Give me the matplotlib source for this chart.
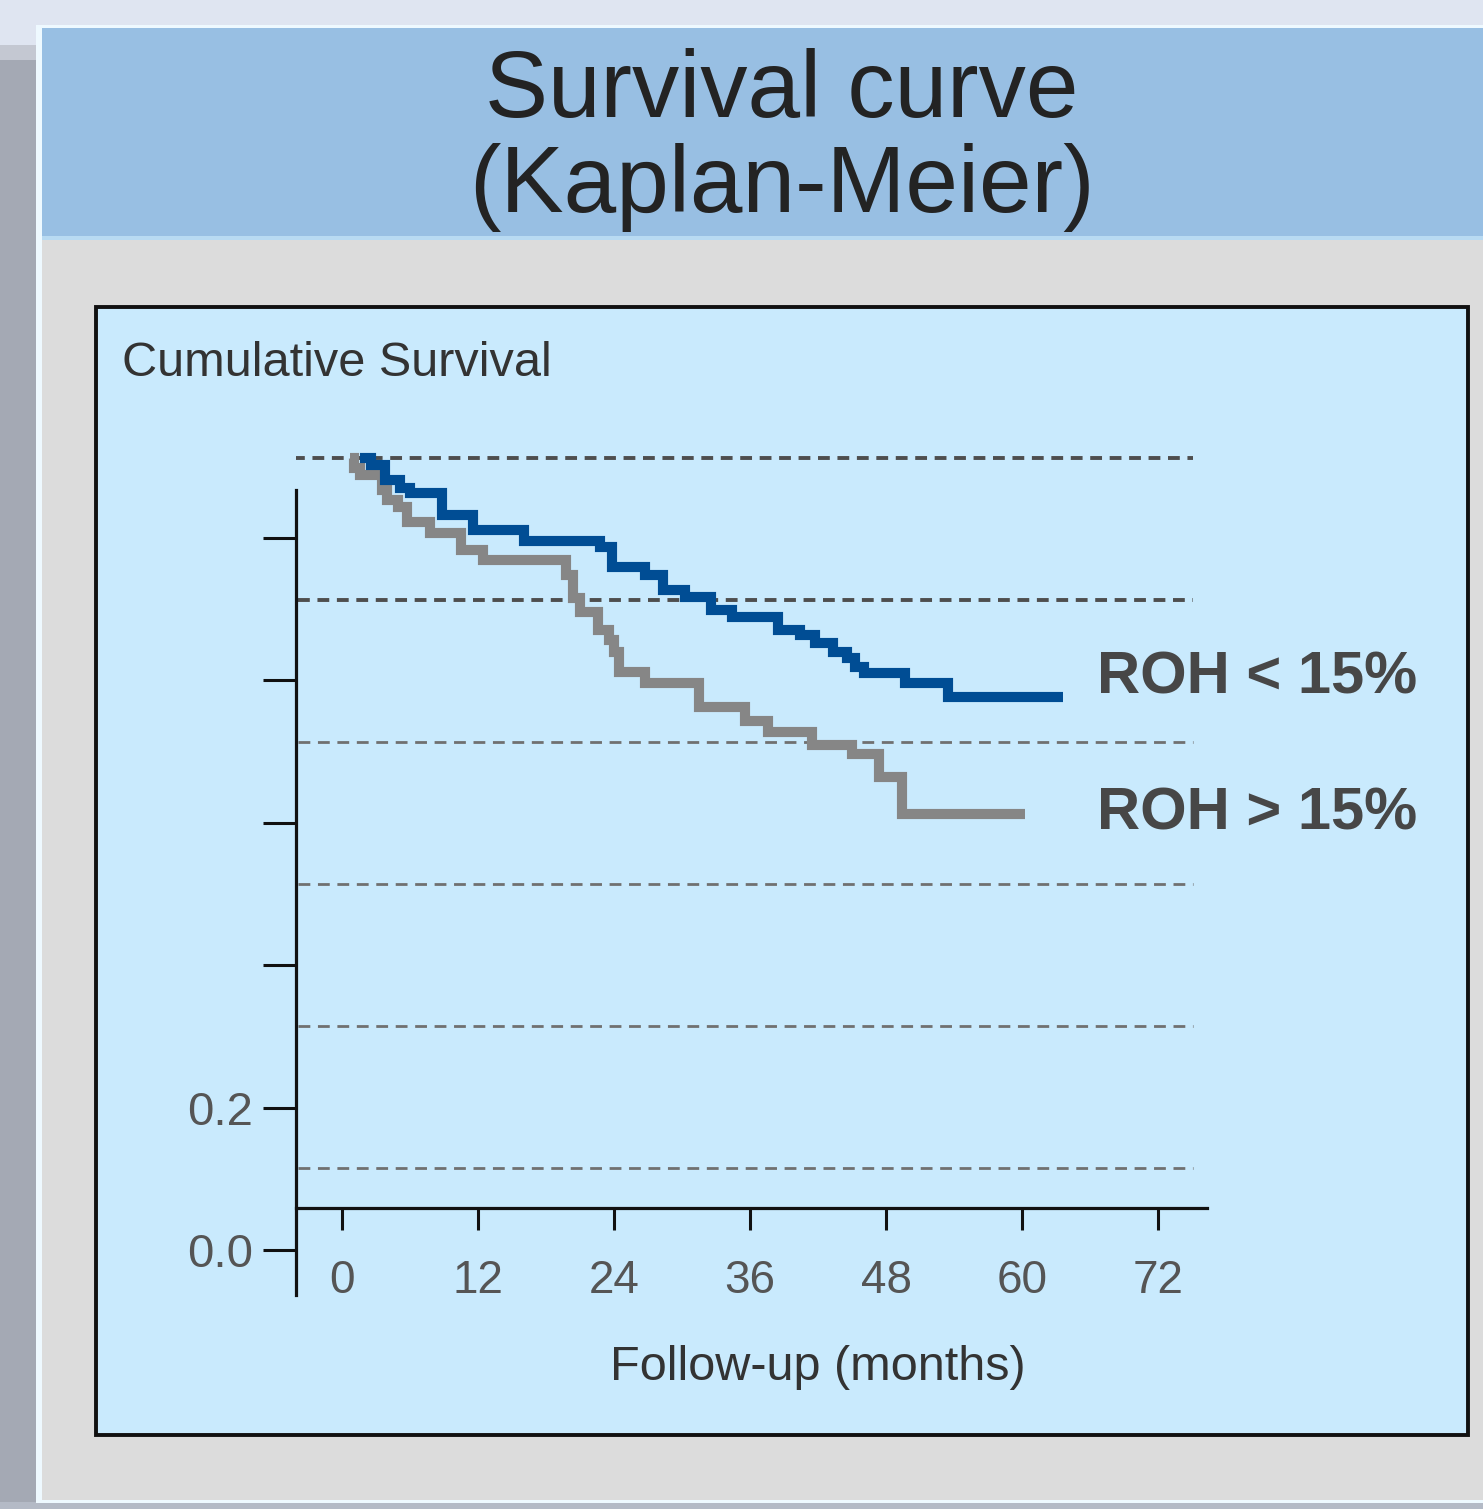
import matplotlib
matplotlib.use("Agg")
import matplotlib.pyplot as plt
from matplotlib.patches import Rectangle

plt.rcParams['font.family'] = ['Liberation Sans', 'DejaVu Sans']
plt.rcParams['lines.scale_dashes'] = False

# ---------------- data ----------------
# Kaplan-Meier step curves: time (months) at which each level starts, survival level
low_roh_times = [1.6, 2.6, 3.8, 5.1, 6.0, 8.8, 11.6, 16.1, 22.8, 23.8, 26.7, 28.3, 30.3,
                 32.6, 34.4, 38.5, 40.4, 41.7, 43.3, 44.6, 45.3, 46.1, 49.7, 53.5, 63.6]
low_roh_surv = [1.000, 0.990, 0.969, 0.958, 0.951, 0.920, 0.899, 0.883, 0.875, 0.846, 0.835,
                0.814, 0.804, 0.786, 0.776, 0.758, 0.751, 0.739, 0.727, 0.718, 0.706, 0.697,
                0.683, 0.663, 0.663]

high_roh_times = [0.7, 1.1, 1.6, 3.5, 4.0, 4.9, 5.7, 7.8, 10.5, 12.4, 19.8, 20.4, 21.0, 22.6,
                  23.6, 24.0, 24.4, 26.7, 31.5, 35.6, 37.6, 41.5, 45.0, 47.4, 49.4, 60.3]
high_roh_surv = [1.000, 0.986, 0.976, 0.955, 0.941, 0.931, 0.910, 0.894, 0.870, 0.856, 0.835,
                 0.803, 0.783, 0.758, 0.744, 0.727, 0.699, 0.683, 0.649, 0.630, 0.614, 0.596,
                 0.583, 0.551, 0.499, 0.499]

series_labels = ["ROH < 15%", "ROH > 15%"]
grid_levels = [1.0, 0.8, 0.6, 0.4, 0.2, 0.0]
x_ticks = [0, 12, 24, 36, 48, 60, 72]
y_ticks = [0.0, 0.2, 0.4, 0.6, 0.8, 1.0]
y_tick_labels = ["0.0", "0.2", "", "", "", ""]

title_lines = ["Survival curve", "(Kaplan-Meier)"]
y_title = "Cumulative Survival"
x_title = "Follow-up (months)"

# ---------------- figure ----------------
W, H = 1483, 1509
fig = plt.figure(figsize=(W / 100, H / 100), dpi=100)
fig.patch.set_facecolor('#dfe5f1')


def rect(x0, y0, x1, y1, **kw):
    fig.patches.append(Rectangle((x0 / W, 1 - y1 / H), (x1 - x0) / W, (y1 - y0) / H,
                                 transform=fig.transFigure, figure=fig, zorder=-10, **kw))


def axes_px(l, t, r, b):
    return fig.add_axes([l / W, 1 - b / H, (r - l) / W, (b - t) / H])


# shadow at left and bottom
rect(0, 60, 36, H, facecolor='#a4a9b4', edgecolor='none')
rect(0, 45, 36, 60, facecolor='#c4c8d2', edgecolor='none')
rect(0, 1502, W, H, facecolor='#b4bac6', edgecolor='none')
# panel
rect(36, 25, W, 1503, facecolor='#eef9ff', edgecolor='none')
rect(42, 28, W, 1500, facecolor='#dcdcdc', edgecolor='none')
rect(42, 28, W, 238, facecolor='#98bfe3', edgecolor='none')
rect(42, 236, W, 240, facecolor='#b8daf2', edgecolor='none')
# inner plot box
rect(96, 307, 1468, 1435, facecolor='#c9eafd', edgecolor='#111111', linewidth=2.8)

# title
fig.text(782 / W, 1 - 92 / H, title_lines[0], ha='center', va='center',
         fontsize=68, color='#232323')
fig.text(782 / W, 1 - 187 / H, title_lines[1], ha='center', va='center',
         fontsize=68, color='#232323')

fig.text(122 / W, 1 - 364 / H, y_title, ha='left', va='center', fontsize=35, color='#333333')

# ---------------- main axes (curves, grid, x axis) ----------------
px_per_month = 816 / 72.0
px_per_unit = 710.0
x0_px, s1_px = 342, 458
ax = axes_px(296, 440, 1207, 1208)
ax.set_xlim((296 - x0_px) / px_per_month, (1207 - x0_px) / px_per_month)
ax.set_ylim(1 - (1208 - s1_px) / px_per_unit, 1 + (s1_px - 440) / px_per_unit)
ax.patch.set_alpha(0)
for sp in ['left', 'right', 'top']:
    ax.spines[sp].set_visible(False)
ax.spines['bottom'].set_linewidth(2.3)
ax.spines['bottom'].set_color('#111111')

gx0 = (298 - x0_px) / px_per_month
gx1 = (1193 - x0_px) / px_per_month
for i, g in enumerate(grid_levels):
    dark = i < 2
    start = (293 - x0_px) / px_per_month if i == 0 else gx0
    ax.hlines(g, start, gx1, colors='#4e4e4e' if dark else '#707070',
              linewidth=2.8 if dark else 2.0, linestyles=[(0, (8.5, 5.5))], zorder=1)

ax.step(high_roh_times, high_roh_surv, where='post', color='#868686', linewidth=7.3,
        solid_capstyle='butt', solid_joinstyle='miter', zorder=3)
ax.step(low_roh_times, low_roh_surv, where='post', color='#004d94', linewidth=7.3,
        solid_capstyle='butt', solid_joinstyle='miter', zorder=4)

lx = (1097 - x0_px) / px_per_month
ax.text(lx, low_roh_surv[-1] + 0.027, series_labels[0], fontsize=43, fontweight='bold',
        color='#474747', va='center', ha='left', clip_on=False)
ax.text(lx, high_roh_surv[-1] - 0.001, series_labels[1], fontsize=43, fontweight='bold',
        color='#474747', va='center', ha='left', clip_on=False)

ax.set_yticks([])
ax.set_xticks(x_ticks)
ax.set_xticklabels([str(t) for t in x_ticks])
ax.tick_params(axis='x', direction='out', length=16, width=2.2, color='#111111',
               labelsize=33, labelcolor='#555555', pad=21)
ax.set_xlabel(x_title, fontsize=35, color='#333333')
ax.xaxis.set_label_coords((818 - 296) / 911, -(1368 - 1208) / 768)
ax.xaxis.label.set_verticalalignment('center')

# ---------------- y axis (separate scale as in the original) ----------------
ay = axes_px(296, 490, 300, 1295)
unit_px = 712.0
ay.set_ylim(-(1295 - 1250) / unit_px, (1250 - 490) / unit_px)
ay.set_xlim(0, 1)
ay.patch.set_alpha(0)
for sp in ['right', 'top', 'bottom']:
    ay.spines[sp].set_visible(False)
ay.spines['left'].set_linewidth(2.3)
ay.spines['left'].set_color('#111111')
ay.set_xticks([])
ay.set_yticks(y_ticks)
ay.set_yticklabels(y_tick_labels)
ay.tick_params(axis='y', direction='out', length=24, width=2.2, color='#111111',
               labelsize=34, labelcolor='#555555', pad=7)

fig.savefig('out.png', dpi=100, facecolor=fig.get_facecolor())
